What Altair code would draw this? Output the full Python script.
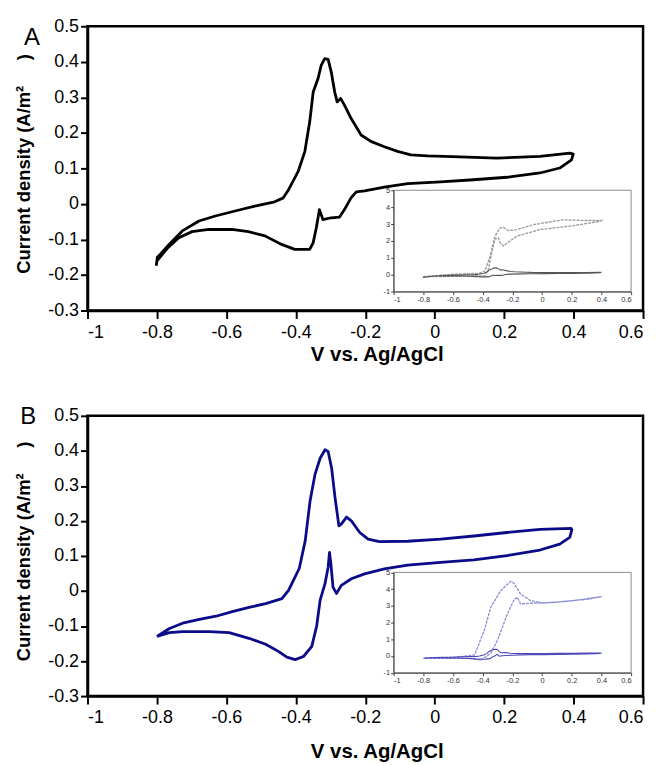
import altair as alt
import pandas as pd

FONT = "Liberation Sans"

# ---------------- data ----------------
# Panel A, main cyclic voltammogram (path order)
A_V = [-0.802, -0.799, -0.765, -0.727, -0.679, -0.632, -0.575, -0.518, -0.461, -0.436,
       -0.421, -0.403, -0.393, -0.374, -0.360, -0.350, -0.336, -0.327, -0.317, -0.307,
       -0.298, -0.288, -0.281, -0.271, -0.260, -0.241, -0.212, -0.184, -0.145, -0.107,
       -0.069, -0.021, 0.050, 0.179, 0.303, 0.389, 0.399, 0.394, 0.360, 0.303,
       0.208, 0.112, 0.017, -0.078, -0.145, -0.202, -0.226, -0.241, -0.260, -0.274,
       -0.298, -0.322, -0.332, -0.341, -0.350, -0.360, -0.393, -0.403, -0.441, -0.489,
       -0.537, -0.584, -0.651, -0.699, -0.737, -0.770, -0.800]
A_J = [-0.174, -0.151, -0.114, -0.076, -0.048, -0.034, -0.020, -0.006, 0.006, 0.017,
       0.040, 0.073, 0.092, 0.148, 0.231, 0.315, 0.353, 0.390, 0.409, 0.407,
       0.371, 0.315, 0.287, 0.297, 0.278, 0.241, 0.194, 0.176, 0.161, 0.148,
       0.138, 0.135, 0.133, 0.129, 0.134, 0.143, 0.140, 0.124, 0.101, 0.087,
       0.075, 0.068, 0.062, 0.057, 0.047, 0.037, 0.034, 0.017, -0.016, -0.037,
       -0.039, -0.044, -0.016, -0.067, -0.109, -0.128, -0.128, -0.128, -0.114, -0.090,
       -0.078, -0.072, -0.072, -0.078, -0.095, -0.125, -0.160]

# Panel A, inset large curve
AI_V = [-0.80, -0.575, -0.418, -0.384, -0.35, -0.317, -0.283, -0.261, -0.227, -0.171,
        -0.059, 0.097, 0.142, 0.277, 0.40, 0.39, 0.21, -0.015, -0.171, -0.216,
        -0.261, -0.283, -0.294, -0.317, -0.339, -0.361, -0.384, -0.575, -0.80]
AI_J = [-0.12, 0.04, 0.09, 0.23, 1.10, 2.28, 2.77, 2.80, 2.61, 2.67,
        2.96, 3.19, 3.25, 3.21, 3.21, 3.16, 2.90, 2.67, 2.28, 1.99,
        1.70, 1.89, 2.18, 2.12, 1.30, 0.33, -0.06, -0.10, -0.12]

# Panel B, main cyclic voltammogram (path order)
B_V = [-0.800, -0.764, -0.726, -0.678, -0.630, -0.583, -0.535, -0.487, -0.440, -0.421,
       -0.402, -0.390, -0.373, -0.359, -0.345, -0.330, -0.316, -0.307, -0.297, -0.287,
       -0.276, -0.269, -0.254, -0.240, -0.216, -0.192, -0.159, -0.078, 0.017, 0.113,
       0.208, 0.303, 0.393, 0.395, 0.389, 0.360, 0.303, 0.208, 0.113, 0.017,
       -0.078, -0.145, -0.202, -0.240, -0.269, -0.283, -0.293, -0.299, -0.303, -0.307,
       -0.316, -0.330, -0.340, -0.354, -0.378, -0.402, -0.426, -0.449, -0.487, -0.535,
       -0.592, -0.649, -0.726, -0.764, -0.800]
B_J = [-0.130, -0.107, -0.092, -0.081, -0.072, -0.059, -0.047, -0.036, -0.022, 0.002,
       0.040, 0.065, 0.143, 0.257, 0.332, 0.379, 0.403, 0.398, 0.351, 0.266,
       0.186, 0.191, 0.211, 0.200, 0.167, 0.148, 0.141, 0.142, 0.148, 0.157,
       0.167, 0.176, 0.179, 0.175, 0.153, 0.134, 0.117, 0.101, 0.089, 0.082,
       0.074, 0.063, 0.049, 0.035, 0.016, -0.007, 0.011, 0.077, 0.110, 0.068,
       0.021, -0.026, -0.100, -0.158, -0.187, -0.196, -0.189, -0.173, -0.152, -0.135,
       -0.119, -0.116, -0.116, -0.119, -0.130]

# Panel B, inset large curve
BI_V = [-0.79, -0.60, -0.455, -0.389, -0.345, -0.278, -0.211, -0.189, -0.145, -0.078,
        0.011, 0.211, 0.40, 0.322, 0.10, -0.145, -0.167, -0.189, -0.233, -0.30,
        -0.345, -0.411, -0.50, -0.79]
BI_J = [-0.12, -0.10, 0.06, 1.54, 2.92, 3.91, 4.46, 4.34, 3.71, 3.31,
        3.16, 3.31, 3.55, 3.41, 3.22, 3.12, 3.51, 3.35, 2.53, 0.95,
        0.16, -0.24, -0.14, -0.14]

X_DOMAIN = [-1, 0.6]
Y_DOMAIN = [-0.3, 0.5]
INSET_Y_DOMAIN = [-1, 5]
X_TICKS = [-1, -0.8, -0.6, -0.4, -0.2, 0, 0.2, 0.4, 0.6]
Y_TICKS = [-0.3, -0.2, -0.1, 0, 0.1, 0.2, 0.3, 0.4, 0.5]
INSET_Y_TICKS = [-1, 0, 1, 2, 3, 4, 5]
PANEL_LABELS = ["A", "B"]
X_TITLE = "V vs. Ag/AgCl"
Y_TITLE = "Current density (A/m\u00b2\u00a0\u00a0\u00a0\u00a0\u00a0)"

LBL = "datum.value < 0 ? '-' + format(-datum.value, '~g') : format(datum.value, '~g')"


def path_df(v, j):
    return pd.DataFrame({"V": v, "J": j, "i": list(range(len(v)))})


def panel(main_v, main_j, big_v, big_j, label, label_pos, height, color, small_color, big_color,
          iy_range, ix_offset, iy_offset, xtitle_y):
    mx = alt.X("V:Q", scale=alt.Scale(domain=X_DOMAIN, nice=False, zero=False),
               axis=alt.Axis(values=X_TICKS, labelExpr=LBL, tickSize=8, tickWidth=2,
                             domainWidth=2.5, domainColor="black", tickColor="black",
                             labelFontSize=18, labelColor="black", labelFont=FONT,
                             labelPadding=5, title=X_TITLE, titleFont=FONT,
                             titleFontSize=20.5, titleFontWeight="bold", titleColor="black",
                             titleX=291, titleY=xtitle_y, titleBaseline="middle",
                             titleAlign="center", grid=False))
    my = alt.Y("J:Q", scale=alt.Scale(domain=Y_DOMAIN, nice=False, zero=False),
               axis=alt.Axis(values=Y_TICKS, labelExpr=LBL, tickSize=7, tickWidth=2,
                             domainWidth=2.5, domainColor="black", tickColor="black",
                             labelFontSize=18, labelColor="black", labelFont=FONT,
                             labelPadding=2, title=Y_TITLE, titleFont=FONT,
                             titleFontSize=18.5, titleFontWeight="bold", titleColor="black",
                             titleX=-64, titleY=height / 2 - 5, titleAngle=270,
                             titleBaseline="middle", titleAlign="center", grid=False))

    line = alt.Chart(path_df(main_v, main_j)).mark_line(
        color=color, strokeWidth=2.8, strokeJoin="round"
    ).encode(x=mx, y=my, order=alt.Order("i:Q"))

    lab = alt.Chart(pd.DataFrame({"V": [label_pos[0]], "J": [label_pos[1]], "t": [label]})).mark_text(
        font=FONT, fontSize=24, color="black", align="center", baseline="middle"
    ).encode(x=mx, y=my, text="t:N")

    main = alt.layer(line, lab)

    ix = alt.X("V:Q", scale=alt.Scale(domain=X_DOMAIN, range=[308, 547], nice=False, zero=False),
               axis=alt.Axis(orient="bottom", offset=ix_offset, values=X_TICKS, labelExpr=LBL,
                             labelFontSize=7.5, labelFont=FONT, labelColor="#333",
                             labelPadding=1, tickSize=3, tickColor="#444", domainColor="#444",
                             domainWidth=1, title=None, grid=False, zindex=2))
    iy = alt.Y("J:Q", scale=alt.Scale(domain=INSET_Y_DOMAIN, range=iy_range, nice=False, zero=False),
               axis=alt.Axis(orient="left", offset=iy_offset, values=INSET_Y_TICKS, labelExpr=LBL,
                             labelFontSize=7.5, labelFont=FONT, labelColor="#333",
                             labelPadding=1, tickSize=3, tickColor="#444", domainColor="#444",
                             domainWidth=1, title=None, grid=False, zindex=2))

    frame = alt.Chart(pd.DataFrame({"V": [X_DOMAIN[0]], "V2": [X_DOMAIN[1]],
                                    "J": [INSET_Y_DOMAIN[0]], "J2": [INSET_Y_DOMAIN[1]]})).mark_rect(
        fill="white", stroke="#8a8a8a", strokeWidth=1
    ).encode(x=ix, x2="V2:Q", y=iy, y2="J2:Q")

    big = alt.Chart(path_df(big_v, big_j)).mark_line(
        color=big_color, strokeWidth=1.3, strokeDash=[3, 1]
    ).encode(x=ix, y=iy, order=alt.Order("i:Q"))

    small = alt.Chart(path_df(list(main_v), list(main_j))).mark_line(
        color=small_color, strokeWidth=1.1
    ).encode(x=ix, y=iy, order=alt.Order("i:Q"))

    inset = alt.layer(frame, big, small)

    return alt.layer(main, inset).resolve_scale(
        x="independent", y="independent"
    ).properties(width=559, height=height)


pA = panel(A_V, A_J, AI_V, AI_J, PANEL_LABELS[0], (-1.16, 0.466), 286,
           "black", "#555555", "#9a9a9a", [267, 165], -19, -308, 44)
pB = panel(B_V, B_J, BI_V, BI_J, PANEL_LABELS[1], (-1.171, 0.497), 282,
           "#0b0b8a", "#4a4ab8", "#8a8ad6", [258.5, 157.5], -23.5, -308, 56)

chart = alt.vconcat(pA, pB, spacing=37).configure_view(
    fill="white", stroke="black", strokeWidth=2.5
)

chart.save("out.html", embed_options={"renderer": "svg", "actions": False})
